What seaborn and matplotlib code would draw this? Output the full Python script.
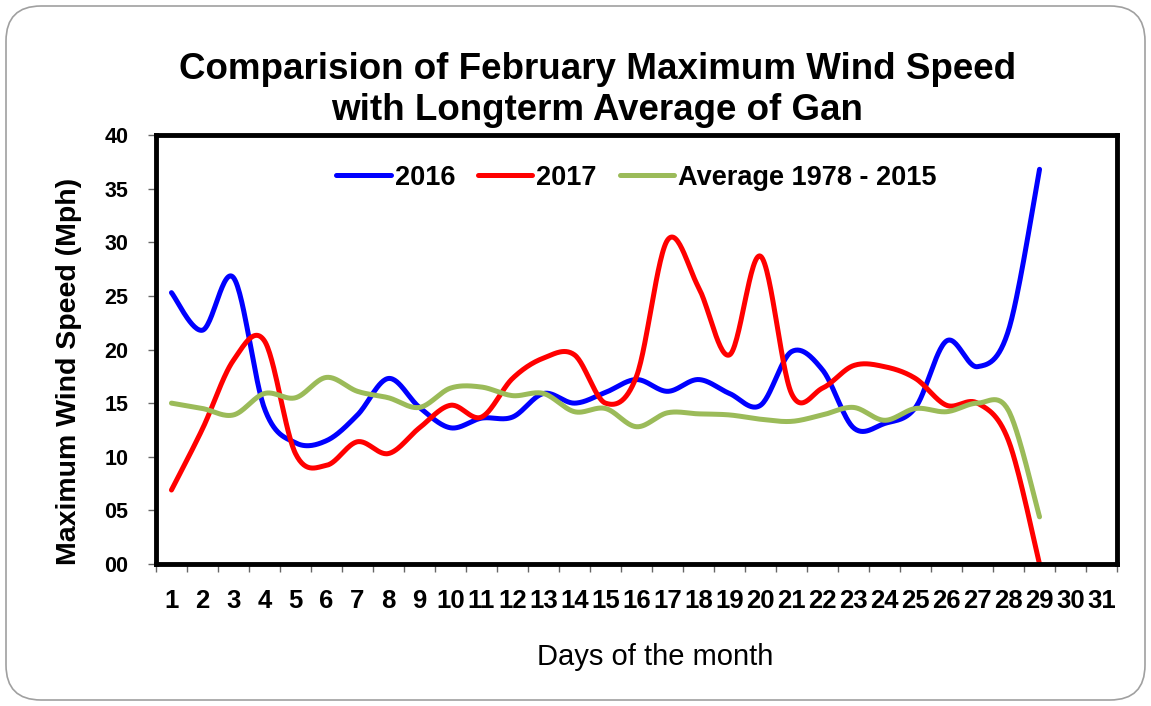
import numpy as np
import pandas as pd
import matplotlib
matplotlib.use("Agg")
import matplotlib.pyplot as plt
import seaborn as sns
from matplotlib.patches import FancyBboxPatch
from matplotlib.transforms import IdentityTransform

# 数据
days = list(range(1, 30))
wind_2016 = [25.3, 21.8, 26.7, 14.5, 11.3, 11.5, 13.9, 17.3, 14.6, 12.7,
             13.6, 13.7, 15.9, 15.0, 16.0, 17.2, 16.1, 17.2, 15.9, 14.8,
             19.8, 18.1, 12.7, 13.1, 14.6, 20.8, 18.4, 21.8, 36.8]
wind_2017 = [6.9, 12.6, 19.0, 20.8, 10.3, 9.2, 11.4, 10.3, 12.7, 14.8,
             13.7, 17.3, 19.2, 19.5, 15.0, 17.5, 30.2, 25.8, 19.5, 28.7,
             15.9, 16.4, 18.5, 18.4, 17.3, 14.8, 15.0, 11.5, 0.0]
wind_avg = [15.0, 14.5, 13.9, 15.9, 15.5, 17.4, 16.1, 15.5, 14.6, 16.4,
            16.5, 15.7, 15.9, 14.2, 14.5, 12.8, 14.1, 14.0, 13.9, 13.5,
            13.3, 13.9, 14.6, 13.4, 14.5, 14.2, 15.0, 14.3, 4.4]
series_names = ["2016", "2017", "Average 1978 - 2015"]
series_colors = ["#0000FF", "#FF0000", "#9BBB59"]
x_tick_labels = [str(d) for d in range(1, 32)]
y_ticks = [0, 5, 10, 15, 20, 25, 30, 35, 40]
y_tick_labels = ["00", "05", "10", "15", "20", "25", "30", "35", "40"]


def smooth(xs, ys, n=30):
    """
    类似 Excel 平滑线的 Catmull-Rom 曲线
    """
    p = np.column_stack([xs, ys]).astype(float)
    p = np.vstack([p[0], p, p[-1]])
    out = []
    t = np.linspace(0, 1, n, endpoint=False)[:, None]
    for i in range(1, len(p) - 2):
        p0, p1, p2, p3 = p[i - 1], p[i], p[i + 1], p[i + 2]
        c1 = p1 + (p2 - p0) / 6
        c2 = p2 - (p3 - p1) / 6
        seg = ((1 - t) ** 3) * p1 + 3 * ((1 - t) ** 2) * t * c1 \
            + 3 * (1 - t) * t ** 2 * c2 + t ** 3 * p2
        out.append(seg)
    out.append(p[-2][None, :])
    return np.vstack(out)


frames = []
for name, vals in zip(series_names, [wind_2016, wind_2017, wind_avg]):
    pts = smooth(days, vals)
    frames.append(pd.DataFrame({"day": pts[:, 0], "speed": pts[:, 1],
                                "series": name}))
df = pd.concat(frames, ignore_index=True)

sns.set_style("white")
plt.rcParams['font.family'] = ['Liberation Sans', 'DejaVu Sans']
plt.rcParams['text.color'] = 'black'
plt.rcParams['axes.labelcolor'] = 'black'

fig = plt.figure(figsize=(11.51, 7.06), dpi=100)
ax = fig.add_axes([0.1355, 0.2011, 0.835, 0.6077])

sns.lineplot(data=df, x="day", y="speed", hue="series", hue_order=series_names,
             palette=series_colors, sort=False, estimator=None, units="series",
             linewidth=3.6, ax=ax, legend=False)
for line in ax.lines:
    line.set_solid_capstyle("round")
    line.set_clip_on(False)

ax.set_xlim(0.5, 31.5)
ax.set_ylim(0, 40)
ax.set_xticks(range(1, 32))
ax.set_xticklabels(x_tick_labels, fontsize=18.5, fontweight="bold")
ax.set_xticks(np.arange(0.5, 32, 1), minor=True)
ax.tick_params(axis="x", which="major", length=0, pad=18, labelcolor="black")
ax.tick_params(axis="x", which="minor", length=6, width=1, color="#666666",
               direction="out", bottom=True)
ax.set_yticks(y_ticks)
ax.set_yticklabels(y_tick_labels, fontsize=15.5, fontweight="bold")
ax.tick_params(axis="y", length=6, width=1, color="#666666", direction="out",
               left=True, pad=14, labelcolor="black")

for sp in ax.spines.values():
    sp.set_linewidth(3.5)
    sp.set_color("black")

ax.set_xlabel("Days of the month", fontsize=21)
ax.set_ylabel("Maximum Wind Speed (Mph)", fontsize=20.5, fontweight="bold")
ax.xaxis.set_label_coords(0.519, -0.183)
ax.yaxis.set_label_coords(-0.077, 0.448)

handles = [plt.Line2D([], [], color=c, linewidth=3.6, solid_capstyle="round")
           for c in series_colors]
ax.legend(handles, series_names, loc="center", bbox_to_anchor=(0.5, 0.9),
          ncol=3, frameon=False, handlelength=2.0, columnspacing=0.85,
          handletextpad=0.15, prop={"weight": "bold", "size": 19.5})

fig.text(0.519, 0.873,
         "Comparision of February Maximum Wind Speed\nwith Longterm Average of Gan",
         ha="center", va="center", fontsize=26.5, fontweight="bold", linespacing=1.22)

# 幻灯片边框
border = FancyBboxPatch((6, 6), 1139, 694, boxstyle="round,pad=0,rounding_size=35",
                        transform=IdentityTransform(), fill=False,
                        edgecolor="#a0a0a0", linewidth=1.2)
fig.add_artist(border)

fig.savefig("out.png", dpi=100)
